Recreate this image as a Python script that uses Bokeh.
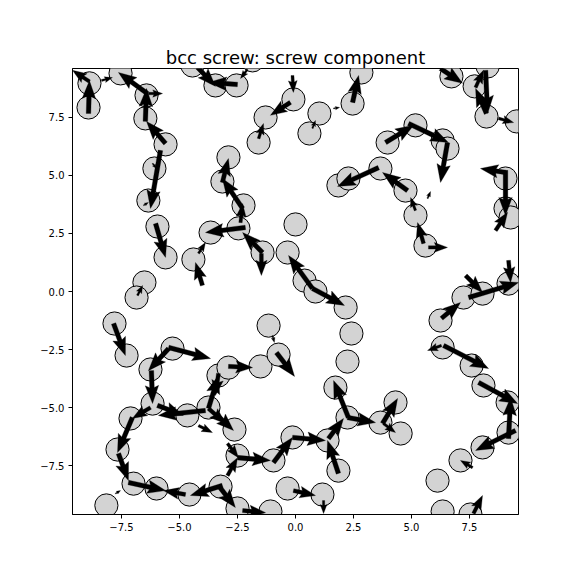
from bokeh.plotting import figure
from bokeh.models import FixedTicker, Range1d
from bokeh.embed import file_html
from bokeh.resources import INLINE
import numpy as np

title_text = "bcc screw: screw component"

atom_x = [-8.88, -8.92, -7.54, -6.42, -6.47, -5.60, -6.08, -6.34, -5.95, -4.44,
          -3.45, -2.54, -1.85, -0.09, -1.29, 1.03, -1.59, 0.60, 2.46, 2.84,
          6.72, 7.72, 8.28, 8.23, 9.53, -2.89, -3.15, -2.24, -2.46, -3.66,
          -5.60, -4.40, -6.51, -6.85, -7.80, -7.28, -1.42, -0.34, 0.00, 0.39,
          0.86, 2.16, 2.41, 2.24, 1.85, 2.28, 3.66, 3.97, 5.17, 6.34,
          6.55, 4.74, 5.17, 5.60, 9.05, 9.05, 9.27, 6.25, 7.24, 8.06,
          9.18, 6.34, 7.59, 8.10, 9.14, 9.18, 8.06, 7.11, 6.12, 6.34,
          7.54, 4.31, 3.66, 4.53, 2.24, 1.72, -5.30, -6.25, -6.16, -7.11,
          -7.67, -6.98, -5.99, -4.57, -3.23, -8.15, -4.66, -3.75, -3.32, -2.89,
          -1.51, -0.73, -1.16, -2.63, -2.50, -0.95, -0.13, 1.38, 1.85, -0.34,
          1.16, -2.50, -1.08]
atom_y = [8.97, 7.93, 9.40, 8.45, 7.46, 6.34, 5.30, 3.92, 2.80, 9.74,
          8.88, 8.88, 9.96, 8.28, 7.50, 7.67, 6.42, 6.81, 8.10, 9.44,
          9.27, 8.84, 9.70, 7.54, 7.33, 5.78, 4.74, 3.71, 2.72, 2.54,
          1.47, 1.38, 0.39, -0.26, -1.38, -2.76, 1.68, 1.68, 2.89, 0.47,
          0.00, -0.69, -1.81, -3.02, 4.57, 4.87, 5.30, 6.42, 7.16, 6.51,
          6.16, 4.35, 3.28, 1.98, 4.87, 3.58, 3.19, -1.25, -0.26, -0.09,
          0.34, -2.41, -3.19, -4.05, -4.78, -6.08, -6.72, -7.28, -8.15, -9.48,
          -9.61, -4.78, -5.65, -6.12, -5.43, -4.14, -2.46, -3.36, -4.83, -5.47,
          -6.81, -8.28, -8.49, -8.75, -8.41, -9.22, -5.34, -5.00, -3.62, -3.28,
          -3.23, -2.72, -1.47, -5.95, -7.07, -7.28, -6.29, -6.42, -7.72, -8.49,
          -8.75, -9.35, -9.48]

arrow_x0 = [-8.88, -8.92, -8.36, -6.38, -6.34, -6.47, -5.60, -5.82, -6.16, -6.55,
            -4.22, -2.50, -2.07, -0.13, -0.22, -1.59, 0.73, 2.46, 1.64, -2.28,
            -3.15, -2.37, 3.58, 3.88, 4.87, 6.55, 4.83, 5.17, 5.69, 6.25,
            7.76, 8.19, 8.23, 8.75, 9.05, 9.05, -6.03, -4.01, -4.18, -2.16,
            -6.81, -7.84, -5.47, -5.47, -1.42, -1.47, 0.73, 0.73, -0.82, -0.99,
            -2.89, 5.52, 5.73, 8.62, 7.33, 7.46, 9.18, 6.29, 6.29, 6.38,
            -6.21, -6.25, -7.03, -5.95, -3.88, -3.75, -3.75, -4.18, -7.63, -7.20,
            -4.74, -3.15, -3.32, -3.45, 2.28, 2.24, 1.42, -0.13, -0.95, 1.85,
            -2.50, -2.93, -2.93, -0.09, 1.21, -3.32, -2.28, 7.89, 9.18, 9.48,
            7.63, 3.75, 3.79, 7.67, -7.76]
arrow_y0 = [9.05, 7.67, 9.09, 8.53, 8.53, 7.33, 6.38, 6.08, 5.52, 3.71,
            9.66, 8.92, 9.57, 9.31, 8.15, 6.59, 7.03, 8.15, 7.89, 3.58,
            4.70, 2.97, 5.34, 6.42, 7.24, 6.42, 4.35, 3.49, 4.01, 9.61,
            8.79, 9.53, 7.67, 7.46, 5.13, 5.22, 2.93, 0.26, 1.64, 2.76,
            -0.17, -1.38, -2.41, -2.46, 1.68, 1.64, 0.13, 0.13, -2.63, -1.90,
            -3.23, 2.07, 1.90, 2.63, 0.69, -0.26, 1.34, -1.16, -2.33, -2.33,
            -3.41, -5.00, -5.43, -4.91, -5.13, -5.04, -5.04, -5.78, -6.98, -8.23,
            -8.75, -8.36, -3.53, -5.26, -5.43, -5.43, -6.34, -6.29, -7.37, -7.84,
            -7.16, -6.55, -7.93, -8.58, -9.01, -8.36, -9.44, -3.92, -6.34, -5.99,
            -7.59, -5.69, -5.69, -9.57, -8.71]
arrow_x1 = [-9.61, -8.88, -7.89, -7.63, -5.73, -6.42, -6.42, -6.25, -5.99, -6.34,
            -3.45, -3.75, -2.37, -0.09, -1.08, -1.38, 0.86, 2.72, 1.90, -3.15,
            -2.89, -2.28, 1.81, 5.09, 6.59, 6.25, 3.75, 4.96, 5.82, 7.20,
            8.10, 8.28, 7.76, 9.40, 7.97, 9.05, -5.60, -4.31, -3.88, -3.88,
            -6.59, -7.33, -3.66, -6.34, -2.28, -1.47, -0.30, 2.11, -0.04, -0.91,
            -1.85, 5.26, 6.55, 9.14, 8.06, 9.61, 9.27, 7.11, 5.69, 8.32,
            -6.16, -7.03, -7.67, -4.83, -5.91, -3.32, -3.02, -3.58, -7.20, -5.60,
            -5.69, -4.53, -3.45, -2.67, 1.64, 3.45, 2.07, 1.29, -0.13, 1.38,
            -1.08, -2.46, -2.50, 0.86, 1.21, -2.59, -1.29, 9.57, 9.27, 7.76,
            7.11, 4.40, 4.31, 8.06, -7.54]
arrow_y1 = [9.53, 9.09, 9.22, 9.44, 8.53, 8.75, 7.33, 3.58, 5.30, 3.84,
            8.84, 9.01, 9.18, 8.58, 7.59, 7.24, 7.37, 9.31, 7.93, 4.87,
            5.73, 3.79, 4.53, 7.16, 6.42, 4.70, 5.13, 4.05, 4.31, 8.97,
            9.53, 7.67, 8.75, 7.28, 5.30, 3.28, 1.47, 1.25, 2.11, 2.54,
            0.26, -2.76, -2.89, -3.41, 2.54, 0.69, 1.55, -0.60, -3.66, -2.20,
            -3.28, 2.97, 1.90, 3.41, -0.04, 0.39, 0.39, -0.47, -2.54, -3.32,
            -4.83, -5.47, -6.94, -5.34, -5.34, -3.62, -5.69, -6.08, -8.15, -8.58,
            -8.58, -8.79, -4.48, -5.99, -3.84, -5.65, -5.47, -6.42, -6.29, -6.42,
            -7.28, -7.16, -7.16, -8.79, -9.57, -9.31, -9.53, -4.83, -4.57, -6.85,
            -7.28, -4.61, -6.08, -8.79, -8.58]

tick_values = [-7.5, -5.0, -2.5, 0.0, 2.5, 5.0, 7.5]
tick_labels = ["\u22127.5", "\u22125.0", "\u22122.5", "0.0", "2.5", "5.0", "7.5"]

LIM = 9.61
FRAME = 446
p = figure(width=568, height=568, output_backend="svg", toolbar_location=None,
           x_range=Range1d(-LIM, LIM), y_range=Range1d(-LIM, LIM),
           min_border_left=72, min_border_right=50, min_border_top=68, min_border_bottom=54,
           title=title_text)
p.title.text_font = "DejaVu Sans"
p.title.text_font_size = "18px"
p.title.text_font_style = "normal"
p.title.text_color = "black"
p.title.align = "center"
p.title.standoff = 2
p.xgrid.visible = False
p.ygrid.visible = False
p.outline_line_color = "black"
p.outline_line_width = 1
p.background_fill_color = "white"
p.border_fill_color = "white"
for ax in (p.xaxis[0], p.yaxis[0]):
    ax.ticker = FixedTicker(ticks=tick_values)
    ax.major_label_overrides = {v: s for v, s in zip(tick_values, tick_labels)}
    ax.major_label_text_font = "DejaVu Sans"
    ax.major_label_text_font_size = "10px"
    ax.major_label_text_color = "black"
    ax.major_tick_in = 0
    ax.major_tick_out = 4
    ax.minor_tick_out = 0
    ax.minor_tick_in = 0
    ax.axis_line_color = "black"
    ax.major_tick_line_color = "black"
p.yaxis[0].major_label_standoff = 4
p.xaxis[0].major_label_standoff = 4

p.circle(x=atom_x, y=atom_y, radius=0.5, fill_color="#d3d3d3",
         line_color="black", line_width=1)

# quiver-like arrow polygons (shape in pixels, converted to data units)
ppu = FRAME / (2 * LIM)
W, HL, HAL, HW, MINSH = 4.6, 18.0, 16.0, 13.5, 26.0
xs, ys = [], []
for a, b, c, d in zip(arrow_x0, arrow_y0, arrow_x1, arrow_y1):
    dx, dy = c - a, d - b
    ln = np.hypot(dx, dy)
    if ln == 0:
        continue
    Lp = ln * ppu
    s = min(1.0, Lp / MINSH)
    w, hl, hal, hw = W * s, HL * s, HAL * s, HW * s
    pts = [(0, -w / 2), (Lp - hal, -w / 2), (Lp - hl, -hw / 2), (Lp, 0),
           (Lp - hl, hw / 2), (Lp - hal, w / 2), (0, w / 2)]
    ex, ey = dx / ln, dy / ln
    nx, ny = -ey, ex
    xs.append([a + (u * ex + v * nx) / ppu for u, v in pts])
    ys.append([b + (u * ey + v * ny) / ppu for u, v in pts])
p.patches(xs=xs, ys=ys, fill_color="black", line_color="black", line_width=0.3)

open("out.html", "w").write(file_html(p, INLINE))
